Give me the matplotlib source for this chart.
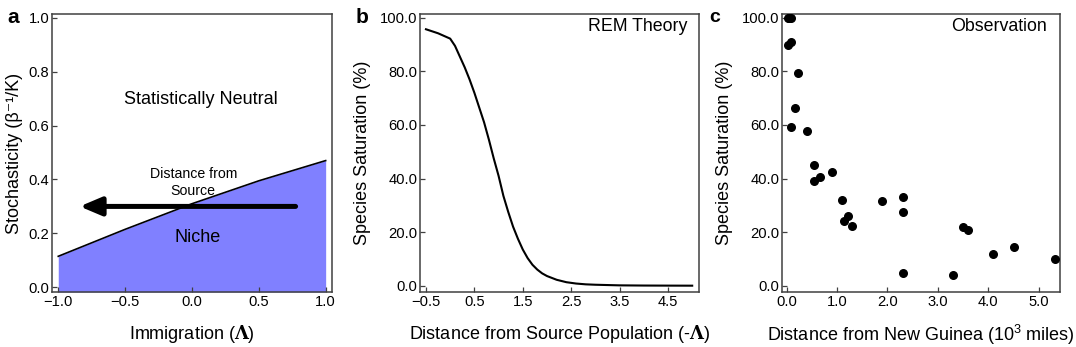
import numpy as np
import matplotlib
matplotlib.use('Agg')
import matplotlib.pyplot as plt

plt.rcParams['font.family'] = ['Liberation Sans', 'DejaVu Sans']
plt.rcParams['mathtext.fontset'] = 'custom'
plt.rcParams['mathtext.rm'] = 'Liberation Sans'
plt.rcParams['mathtext.bf'] = 'DejaVu Serif:bold'

# Panel a: Grenze Nische / neutral
grenze_x = [-1.0, -0.5, 0.0, 0.5, 1.0]
grenze_y = [0.115, 0.215, 0.31, 0.395, 0.47]
pfeil_start, pfeil_ende, pfeil_y = 0.775, -0.84, 0.30

# Panel b: REM Theorie
theorie_x = [-0.5, -0.25, 0.0, 0.1, 0.2, 0.3, 0.4, 0.5, 0.6, 0.7, 0.8, 0.9, 1.0,
             1.1, 1.2, 1.3, 1.4, 1.5, 1.6, 1.7, 1.8, 1.9, 2.0, 2.2, 2.4, 2.6,
             2.8, 3.0, 3.5, 4.0, 4.5, 5.0]
theorie_y = [95.7, 94.2, 92.2, 89.5, 85.5, 81.5, 77.0, 72.0, 66.5, 61.0, 54.5,
             47.5, 41.0, 33.5, 27.5, 22.0, 17.5, 13.5, 10.3, 7.8, 6.0, 4.6, 3.6,
             2.2, 1.3, 0.8, 0.5, 0.35, 0.12, 0.05, 0.02, 0.0]

# Panel c: Beobachtung
beob_x = [0.02, 0.05, 0.09, 0.03, 0.08, 0.23, 0.165, 0.09, 0.40, 0.55, 0.54, 0.67,
          0.90, 1.10, 1.14, 1.21, 1.30, 1.89, 2.30, 2.30, 2.30, 3.29, 3.49, 3.60,
          4.10, 4.50, 5.31]
beob_y = [100.0, 100.0, 100.0, 89.8, 91.0, 79.2, 66.3, 59.2, 57.7, 45.1, 39.1, 40.4,
          42.6, 31.9, 24.0, 25.9, 22.4, 31.5, 33.0, 27.5, 4.7, 3.9, 21.9, 20.7,
          11.7, 14.5, 10.0]

fig = plt.figure(figsize=(10.76, 3.47), dpi=100)
axa = fig.add_axes([0.0483, 0.1585, 0.2602, 0.8012])
axb = fig.add_axes([0.3903, 0.1585, 0.2593, 0.8012])
axc = fig.add_axes([0.7268, 0.1585, 0.2584, 0.8012])

for ax in (axa, axb, axc):
    for s in ax.spines.values():
        s.set_color('#404040')
        s.set_linewidth(1.1)
    ax.tick_params(direction='in', length=3.5, width=0.9, color='#404040',
                   labelsize=10.6, pad=2)

# a
axa.set_xlim(-1.047, 1.047)
axa.set_ylim(-0.0174, 1.0137)
axa.fill_between(grenze_x, -0.0174, grenze_y, color='#8080ff', lw=0)
axa.plot(grenze_x, grenze_y, color='black', lw=1.2)
axa.annotate('', xy=(pfeil_ende, pfeil_y), xytext=(pfeil_start, pfeil_y),
             arrowprops=dict(arrowstyle='-|>,head_length=1.3,head_width=0.55',
                             lw=3.6, color='black', shrinkA=0, shrinkB=0))
axa.text(0.07, 0.695, 'Statistically Neutral', ha='center', va='center', fontsize=13)
axa.text(0.01, 0.39, 'Distance from\nSource', ha='center', va='center', fontsize=10.2,
         linespacing=1.25)
axa.text(0.045, 0.185, 'Niche', ha='center', va='center', fontsize=13)
axa.set_xticks([-1.0, -0.5, 0.0, 0.5, 1.0])
axa.set_xticklabels(['\u22121.0', '\u22120.5', '0.0', '0.5', '1.0'])
axa.set_yticks([0.0, 0.2, 0.4, 0.6, 0.8, 1.0])
axa.set_yticklabels(['0.0', '0.2', '0.4', '0.6', '0.8', '1.0'])
axa.set_xlabel(r'Immigration ($\mathbf{\Lambda}$)', fontsize=13, labelpad=10)
axa.set_ylabel('Stochasticity (β\u207b\u00b9/K)', fontsize=13, labelpad=4)

# b
axb.set_xlim(-0.624, 5.14)
axb.set_ylim(-2.36, 101.4)
axb.plot(theorie_x, theorie_y, color='black', lw=1.5)
axb.set_xticks([-0.5, 0.5, 1.5, 2.5, 3.5, 4.5])
axb.set_xticklabels(['\u22120.5', '0.5', '1.5', '2.5', '3.5', '4.5'])
axb.set_yticks([0, 20, 40, 60, 80, 100])
axb.set_yticklabels(['0.0', '20.0', '40.0', '60.0', '80.0', '100.0'])
axb.text(0.957, 0.955, 'REM Theory', transform=axb.transAxes, ha='right', va='center',
         fontsize=12.8)
axb.set_xlabel(r'Distance from Source Population (-$\mathbf{\Lambda}$)', fontsize=13,
               labelpad=10)
axb.set_ylabel('Species Saturation (%)', fontsize=13, labelpad=6)

# c
axc.set_xlim(-0.089, 5.42)
axc.set_ylim(-2.36, 101.4)
axc.scatter(beob_x, beob_y, s=30, color='black', zorder=3, clip_on=False)
axc.set_xticks([0, 1, 2, 3, 4, 5])
axc.set_xticklabels(['0.0', '1.0', '2.0', '3.0', '4.0', '5.0'])
axc.set_yticks([0, 20, 40, 60, 80, 100])
axc.set_yticklabels(['0.0', '20.0', '40.0', '60.0', '80.0', '100.0'])
axc.text(0.953, 0.955, 'Observation', transform=axc.transAxes, ha='right', va='center',
         fontsize=12.8)
axc.set_xlabel('Distance from New Guinea (10$^3$ miles)', fontsize=13, labelpad=10)
axc.set_ylabel('Species Saturation (%)', fontsize=13, labelpad=6)

fig.text(0.012, 0.95, 'a', fontsize=15, fontweight='bold', ha='center', va='center')
fig.text(0.336, 0.95, 'b', fontsize=15, fontweight='bold', ha='center', va='center')
fig.text(0.664, 0.95, 'c', fontsize=14, fontweight='bold', ha='center', va='center')

fig.savefig('out.png', dpi=100)
